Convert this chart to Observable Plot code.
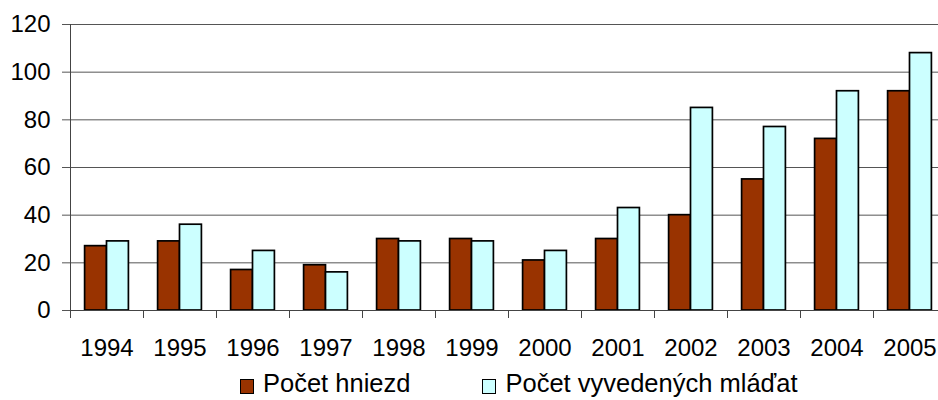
<!DOCTYPE html>
<html>
<head>
<meta charset="utf-8">
<script src="https://cdn.jsdelivr.net/npm/d3@7"></script>
<script src="https://cdn.jsdelivr.net/npm/@observablehq/plot@0.6"></script>
<style>
  body { margin: 0; background: #fff; font-family: "Liberation Sans", Arial, sans-serif; }
  #wrap { position: relative; width: 938px; height: 400px; }
  #legend { position: absolute; top: 369px; left: 240px; display: flex; align-items: center; font-size: 25.5px; color: #000; }
  .item { display: flex; align-items: center; }
  .sw { width: 12px; height: 13px; border: 1px solid #000; margin-right: 9px; margin-top: 6px; }
</style>
</head>
<body>
<div id="wrap">
  <div id="chart"></div>
  <div id="legend"></div>
</div>
<script>
const years = [1994, 1995, 1996, 1997, 1998, 1999, 2000, 2001, 2002, 2003, 2004, 2005];
const hniezd = [27, 29, 17, 19, 30, 30, 21, 30, 40, 55, 72, 92];
const mladat = [29, 36, 25, 16, 29, 29, 25, 43, 85, 77, 92, 108];
const seriesNames = ["Počet hniezd", "Počet vyvedených mláďat"];
const seriesColors = ["#993300", "#CCFFFF"];
const yTicks = [0, 20, 40, 60, 80, 100, 120];

const data = [];
years.forEach((y, i) => {
  data.push({year: y, series: 0, value: hniezd[i]});
  data.push({year: y, series: 1, value: mladat[i]});
});
const boundaries = years.map(y => y - 0.5).concat([years[years.length - 1] + 0.5]);
const barW = 0.3;

const chart = Plot.plot({
  width: 938,
  height: 365,
  marginLeft: 70,
  marginRight: 0,
  marginTop: 24,
  marginBottom: 55,
  style: {fontFamily: "Liberation Sans, Arial, sans-serif", fontSize: "24px", color: "#000", background: "#fff"},
  x: {type: "linear", domain: [1993.5, 1993.5 + 868 / 73], axis: null},
  y: {domain: [0, 120], axis: null},
  marks: [
    Plot.ruleY(yTicks, {stroke: "#555", strokeWidth: 1}),
    Plot.axisY({ticks: yTicks, tickSize: 8, tickPadding: 12, fontSize: 24, label: null, stroke: "#555", strokeOpacity: 1}),
    Plot.rectY(data, {
      x1: d => d.series === 0 ? d.year - barW : d.year,
      x2: d => d.series === 0 ? d.year : d.year + barW,
      y1: 0,
      y2: "value",
      fill: d => seriesColors[d.series],
      stroke: "#000",
      strokeWidth: 1.7
    }),
    Plot.ruleX([1993.5], {y1: 0, y2: 120, stroke: "#444", strokeWidth: 1}),
    Plot.ruleY([0], {stroke: "#444", strokeWidth: 1}),
    Plot.axisX({ticks: boundaries, tickSize: 8, tickFormat: () => "", label: null, stroke: "#444", strokeOpacity: 1}),
    Plot.axisX({ticks: years, tickSize: 0, tickPadding: 28, tickFormat: d => String(d), label: null, fontSize: 24})
  ]
});
document.getElementById("chart").appendChild(chart);

const legend = document.getElementById("legend");
seriesNames.forEach((name, i) => {
  const item = document.createElement("div");
  item.className = "item";
  if (i > 0) item.style.marginLeft = "72px";
  const sw = document.createElement("div");
  sw.className = "sw";
  sw.style.background = seriesColors[i];
  const t = document.createElement("span");
  t.textContent = name;
  item.appendChild(sw);
  item.appendChild(t);
  legend.appendChild(item);
});
</script>
</body>
</html>
